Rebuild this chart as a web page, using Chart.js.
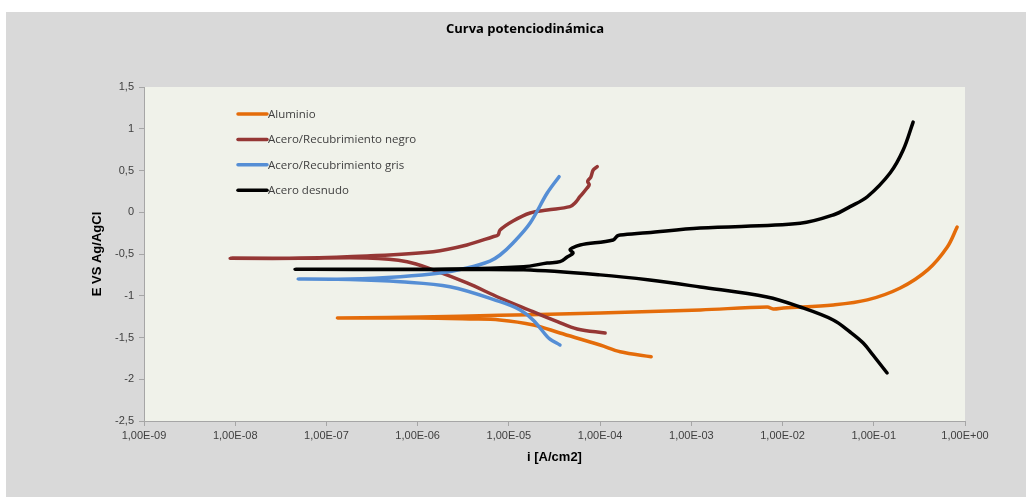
<!DOCTYPE html>
<html><head><meta charset="utf-8">
<script src="https://cdn.jsdelivr.net/npm/chart.js@4.4.1/dist/chart.umd.min.js"></script>
<style>html,body{margin:0;padding:0;background:#fff;overflow:hidden}
canvas{display:block}</style></head>
<body><canvas id="c" width="1026" height="497"></canvas>
<script>
const chartTitle = 'Curva potenciodinámica';
const xAxisTitle = 'i [A/cm2]';
const yAxisTitle = 'E VS Ag/AgCl';
const seriesNames = ['Aluminio', 'Acero/Recubrimiento negro', 'Acero/Recubrimiento gris', 'Acero desnudo'];
const seriesColors = ['#E46C0A', '#953735', '#558ED5', '#000000'];

const xTickValues = [1e-9, 1e-8, 1e-7, 1e-6, 1e-5, 1e-4, 1e-3, 1e-2, 1e-1, 1e0];
const xTickLabels = ['1,00E-09', '1,00E-08', '1,00E-07', '1,00E-06', '1,00E-05', '1,00E-04', '1,00E-03', '1,00E-02', '1,00E-01', '1,00E+00'];
const yTickValues = [-2.5, -2, -1.5, -1, -0.5, 0, 0.5, 1, 1.5];
const yTickLabels = ['-2,5', '-2', '-1,5', '-1', '-0,5', '0', '0,5', '1', '1,5'];

// Aluminio
const aluminioI = [3.63e-4, 1.66e-4, 1.0e-4, 3.63e-5, 1.86e-5, 7.94e-6, 3.72e-6, 1.07e-6, 1.32e-7, 1.07e-6, 7.9e-6, 3.6e-5, 1.0e-4, 1.26e-3, 6.8e-3, 7.9e-3, 1.02e-2, 3.6e-2, 8.5e-2, 0.195, 0.39, 0.64, 0.82];
const aluminioE = [-1.73, -1.67, -1.59, -1.446, -1.35, -1.29, -1.278, -1.266, -1.266, -1.255, -1.235, -1.22, -1.207, -1.17, -1.135, -1.159, -1.147, -1.11, -1.05, -0.907, -0.69, -0.416, -0.177];
// Acero/Recubrimiento negro
const negroI = [1.135e-4, 5.6e-5, 3.4e-5, 1.84e-5, 8.0e-6, 3.47e-6, 1.48e-6, 7.66e-7, 2.79e-7, 5.1e-8, 8.8e-9, 5.1e-8, 2.79e-7, 1.48e-6, 3.47e-6, 6.7e-6, 7.6e-6, 8.0e-6, 1.11e-5, 1.71e-5, 2.63e-5, 4.68e-5, 5.3e-5, 6.0e-5, 7.2e-5, 7.6e-5, 7.3e-5, 7.9e-5, 8.4e-5, 9.3e-5];
const negroE = [-1.446, -1.398, -1.31, -1.19, -1.027, -0.847, -0.69, -0.592, -0.548, -0.552, -0.552, -0.548, -0.524, -0.472, -0.392, -0.293, -0.272, -0.213, -0.105, -0.009, 0.027, 0.067, 0.111, 0.186, 0.29, 0.33, 0.37, 0.42, 0.506, 0.546];
// Acero/Recubrimiento gris
const grisI = [3.63e-5, 2.83e-5, 2.63e-5, 1.84e-5, 1.33e-5, 8.0e-6, 2.26e-6, 6.46e-7, 1.82e-7, 4.9e-8, 1.82e-7, 6.46e-7, 1.76e-6, 3.47e-6, 6.2e-6, 8.0e-6, 1.11e-5, 1.71e-5, 2.63e-5, 3.55e-5];
const grisE = [-1.59, -1.52, -1.49, -1.29, -1.17, -1.071, -0.892, -0.832, -0.805, -0.80, -0.80, -0.772, -0.728, -0.668, -0.584, -0.512, -0.368, -0.129, 0.23, 0.426];
// Acero desnudo
const desnudoI = [0.140, 9.8e-2, 7.66e-2, 5.5e-2, 3.59e-2, 1.56e-2, 6.76e-3, 1.25e-3, 3.5e-4, 1.0e-4, 1.45e-5, 2.26e-6, 4.53e-8, 2.26e-6, 1.45e-5, 2.63e-5, 3.63e-5, 4.35e-5, 5.06e-5, 4.69e-5, 4.93e-5, 6.04e-5, 1.39e-4, 1.54e-4, 1.66e-4, 3.27e-4, 1.25e-3, 1.56e-2, 3.59e-2, 5.5e-2, 8.5e-2, 0.151, 0.21, 0.27];
const desnudoE = [-1.925, -1.71, -1.566, -1.434, -1.29, -1.135, -1.015, -0.895, -0.811, -0.75, -0.69, -0.686, -0.683, -0.68, -0.652, -0.608, -0.592, -0.536, -0.488, -0.452, -0.428, -0.392, -0.332, -0.284, -0.272, -0.245, -0.189, -0.132, -0.033, 0.067, 0.186, 0.47, 0.745, 1.08];

const seriesI = [aluminioI, negroI, grisI, desnudoI];
const seriesE = [aluminioE, negroE, grisE, desnudoE];

const datasets = seriesNames.map((name, k) => ({
  label: name,
  data: seriesI[k].map((v, j) => ({x: v, y: seriesE[k][j]})),
  borderColor: seriesColors[k],
  backgroundColor: seriesColors[k],
  borderWidth: 3.5,
  pointRadius: 0,
  pointHoverRadius: 0,
  tension: 0.35,
  fill: false,
  showLine: true,
  borderCapStyle: 'round',
  borderJoinStyle: 'round',
  order: seriesNames.length - k
}));

const bgPlugin = {
  id: 'bg',
  beforeDraw(chart) {
    const {ctx, chartArea: a} = chart;
    ctx.save();
    ctx.fillStyle = '#ffffff';
    ctx.fillRect(0, 0, chart.width, chart.height);
    ctx.fillStyle = '#d9d9d9';
    ctx.fillRect(6, 12, chart.width - 6, chart.height - 12);
    ctx.fillStyle = '#f0f2ea';
    ctx.fillRect(a.left, a.top, a.right - a.left, a.bottom - a.top);
    ctx.restore();
  },
  afterDraw(chart) {
    const ctx = chart.ctx;
    ctx.save();
    ctx.fillStyle = '#000000';
    ctx.font = 'bold 13px "Open Sans", Lato, sans-serif';
    ctx.textAlign = 'center';
    ctx.textBaseline = 'middle';
    ctx.fillText(chartTitle, 525, 29);
    // legend
    ctx.font = '11.5px "Open Sans", sans-serif';
    ctx.textAlign = 'left';
    chart.data.datasets.forEach((ds, k) => {
      const y = 114 + k * 25.4;
      ctx.strokeStyle = ds.borderColor;
      ctx.lineWidth = 3.5;
      ctx.lineCap = 'round';
      ctx.beginPath();
      ctx.moveTo(238, y);
      ctx.lineTo(267, y);
      ctx.stroke();
      ctx.fillStyle = '#404040';
      ctx.fillText(ds.label, 268, y + 0.5);
    });
    ctx.restore();
  }
};

new Chart(document.getElementById('c'), {
  type: 'scatter',
  data: {datasets},
  plugins: [bgPlugin],
  options: {
    responsive: false,
    animation: false,
    devicePixelRatio: 1,
    layout: {padding: {top: 87, right: 61, left: 0, bottom: 0}},
    plugins: {legend: {display: false}, title: {display: false}, tooltip: {enabled: false}},
    scales: {
      x: {
        type: 'logarithmic',
        min: 1e-9, max: 1,
        afterBuildTicks: (s) => { s.ticks = xTickValues.map(v => ({value: v})); },
        afterFit: (s) => { s.height = 76; },
        ticks: {
          autoSkip: false, maxRotation: 0, padding: 3,
          color: '#404040',
          font: {family: '"Liberation Sans Narrow", "Liberation Sans", sans-serif', size: 11},
          callback: (v) => { const i = xTickValues.findIndex(t => Math.abs(Math.log10(t) - Math.log10(v)) < 1e-6); return i >= 0 ? xTickLabels[i] : ''; }
        },
        grid: {drawOnChartArea: false, drawTicks: true, tickLength: 5, color: '#a6a6a6'},
        border: {color: '#a6a6a6'},
        title: {display: true, text: xAxisTitle, color: '#000', font: {family: '"Liberation Sans", Arial, sans-serif', size: 13, weight: 'bold'}, padding: {top: 0, bottom: 32}}
      },
      y: {
        type: 'linear',
        min: -2.5, max: 1.5,
        afterBuildTicks: (s) => { s.ticks = yTickValues.map(v => ({value: v})); },
        afterFit: (s) => { s.width = 144; },
        ticks: {
          padding: 5, color: '#404040',
          font: {family: '"Liberation Sans", Arial, sans-serif', size: 11},
          callback: (v) => { const i = yTickValues.findIndex(t => Math.abs(t - v) < 1e-9); return i >= 0 ? yTickLabels[i] : ''; }
        },
        grid: {drawOnChartArea: false, drawTicks: true, tickLength: 5, color: '#a6a6a6'},
        border: {color: '#a6a6a6'},
        title: {display: true, text: yAxisTitle, color: '#000', font: {family: '"Liberation Sans", Arial, sans-serif', size: 13, weight: 'bold'}, padding: {top: 90, bottom: 0}}
      }
    }
  }
});
</script></body></html>
